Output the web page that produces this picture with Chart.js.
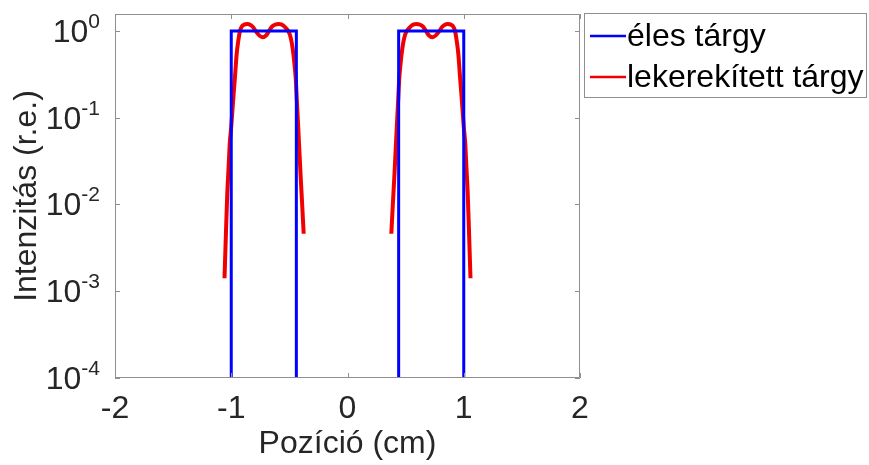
<!DOCTYPE html>
<html>
<head>
<meta charset="utf-8">
<script src="https://cdn.jsdelivr.net/npm/chart.js@4/dist/chart.umd.min.js"></script>
<style>
  html, body { margin: 0; padding: 0; background: #fff; }
  canvas { display: block; }
</style>
</head>
<body>
<canvas id="chart" width="869" height="465"></canvas>
<script>
// Tengelyek
const xTicks = [-2, -1, 0, 1, 2];
const yTicks = [1e-4, 1e-3, 1e-2, 1e-1, 1];
const yTickExponents = ["-4", "-3", "-2", "-1", "0"];

// Éles tárgy: négyszög-profil (null = szakadás, 1e-5 = a tengely alatt, "nulla")
const sharpX = [-1, -1, -0.44, -0.44, null, 0.44, 0.44, 1, 1];
const sharpY = [1e-5, 1, 1, 1e-5, null, 1e-5, 1, 1, 1e-5];

// Lekerekített tárgy: bal és jobb oldali nyaláb
const roundX = [
  -1.058, -1.045, -1.034, -1.022, -1.013, -1.0, -0.985, -0.968, -0.953, -0.94,
  -0.925, -0.91, -0.896, -0.878, -0.858, -0.838, -0.815, -0.79, -0.76, -0.73,
  -0.70, -0.675, -0.65, -0.625, -0.59, -0.57, -0.55, -0.53, -0.51, -0.495,
  -0.48, -0.466, -0.455, -0.445, -0.436, -0.428, -0.417, -0.403, -0.39, -0.377,
  null,
  0.377, 0.39, 0.403, 0.417, 0.428, 0.436, 0.445, 0.455, 0.466, 0.48,
  0.495, 0.51, 0.53, 0.55, 0.57, 0.59, 0.625, 0.65, 0.675, 0.70,
  0.73, 0.76, 0.79, 0.815, 0.838, 0.858, 0.878, 0.896, 0.91, 0.925,
  0.94, 0.953, 0.968, 0.985, 1.0, 1.013, 1.022, 1.034, 1.045, 1.058
];
const roundY = [
  0.00141, 0.0050, 0.0135, 0.0282, 0.050, 0.079, 0.151, 0.295, 0.55, 0.76,
  1.0, 1.12, 1.17, 1.197, 1.205, 1.18, 1.12, 1.0, 0.89, 0.845,
  0.89, 1.0, 1.12, 1.18, 1.205, 1.19, 1.15, 1.08, 1.0, 0.90,
  0.74, 0.55, 0.40, 0.28, 0.16, 0.10, 0.050, 0.021, 0.010, 0.0046,
  null,
  0.0046, 0.010, 0.021, 0.050, 0.10, 0.16, 0.28, 0.40, 0.55, 0.74,
  0.90, 1.0, 1.08, 1.15, 1.19, 1.205, 1.18, 1.12, 1.0, 0.89,
  0.845, 0.89, 1.0, 1.12, 1.18, 1.205, 1.197, 1.17, 1.12, 1.0,
  0.76, 0.55, 0.295, 0.151, 0.079, 0.050, 0.0282, 0.0135, 0.0050, 0.00141
];

const FONT = "'Liberation Sans', Arial, sans-serif";
const TEXT = "#262626";
const AXIS = "#8f8f8f";

function toPoints(xs, ys) {
  return xs.map((x, i) => ({ x: x === null ? NaN : x, y: ys[i] }));
}

// MATLAB-szerű doboz, befelé álló osztásokkal, hatványos y-feliratok, jelmagyarázat
const matlabAxes = {
  id: "matlabAxes",
  afterDatasetsDraw(chart) {
    const { ctx, chartArea: a, scales } = chart;
    const xs = scales.x, ys = scales.y;
    ctx.save();
    ctx.strokeStyle = AXIS;
    ctx.lineWidth = 1;
    ctx.beginPath();
    ctx.rect(a.left + 0.5, a.top + 0.5, a.right - a.left - 1, a.bottom - a.top - 1);
    xTicks.forEach((v) => {
      const px = Math.round(xs.getPixelForValue(v)) + 0.5;
      ctx.moveTo(px, a.bottom); ctx.lineTo(px, a.bottom - 5);
      ctx.moveTo(px, a.top); ctx.lineTo(px, a.top + 5);
    });
    yTicks.forEach((v) => {
      const py = Math.round(ys.getPixelForValue(v)) + 0.5;
      ctx.moveTo(a.left, py); ctx.lineTo(a.left + 5, py);
      ctx.moveTo(a.right, py); ctx.lineTo(a.right - 5, py);
    });
    ctx.stroke();

    // y feliratok: 10 a kitevővel
    ctx.fillStyle = TEXT;
    ctx.textBaseline = "alphabetic";
    yTicks.forEach((v, i) => {
      const py = ys.getPixelForValue(v);
      ctx.font = "21px " + FONT;
      ctx.textAlign = "right";
      const exp = yTickExponents[i];
      const expW = ctx.measureText(exp).width;
      ctx.fillText(exp, a.left - 15, py - 3);
      ctx.font = "32px " + FONT;
      ctx.fillText("10", a.left - 15 - expW, py + 11);
    });

    // jelmagyarázat
    const lx = 584, ly = 13, lw = 282, lh = 84;
    ctx.strokeStyle = AXIS;
    ctx.strokeRect(lx + 0.5, ly + 0.5, lw, lh);
    const rows = [23, 64];
    chart.data.datasets.forEach((ds, i) => {
      const y = ly + rows[i];
      ctx.strokeStyle = ds.borderColor;
      ctx.lineWidth = 2.5;
      ctx.beginPath();
      ctx.moveTo(lx + 6, y);
      ctx.lineTo(lx + 42, y);
      ctx.stroke();
      ctx.fillStyle = "#000";
      ctx.font = "32px " + FONT;
      ctx.textAlign = "left";
      ctx.textBaseline = "middle";
      ctx.fillText(ds.label, lx + 43, y + 1);
    });
    ctx.restore();
  }
};

new Chart(document.getElementById("chart"), {
  type: "line",
  data: {
    datasets: [
      {
        label: "éles tárgy",
        data: toPoints(sharpX, sharpY),
        borderColor: "#0000ff",
        borderWidth: 3,
        pointRadius: 0,
        tension: 0,
        spanGaps: false
      },
      {
        label: "lekerekített tárgy",
        data: toPoints(roundX, roundY),
        borderColor: "#f00000",
        borderWidth: 4,
        pointRadius: 0,
        cubicInterpolationMode: "monotone",
        spanGaps: false
      }
    ]
  },
  options: {
    responsive: false,
    animation: false,
    layout: { padding: { left: 0, right: 289, top: 14, bottom: 0 } },
    plugins: { legend: { display: false }, tooltip: { enabled: false } },
    scales: {
      x: {
        type: "linear",
        min: -2,
        max: 2,
        afterBuildTicks: (s) => { s.ticks = xTicks.map((v) => ({ value: v })); },
        ticks: { font: { family: FONT, size: 32 }, color: TEXT, padding: 12 },
        grid: { display: false, drawTicks: false },
        border: { display: false },
        title: {
          display: true,
          text: "Pozíció (cm)",
          font: { family: FONT, size: 32 },
          color: TEXT,
          padding: { top: 0, bottom: 2 }
        },
        afterFit: (s) => { s.height = 87; }
      },
      y: {
        type: "logarithmic",
        min: 1e-4,
        max: 1.57,
        bounds: "data",
        afterBuildTicks: (s) => { s.ticks = yTicks.map((v) => ({ value: v })); },
        ticks: { display: false },
        grid: { display: false, drawTicks: false },
        border: { display: false },
        title: {
          display: true,
          text: "Intenzitás (r.e.)",
          font: { family: FONT, size: 32 },
          color: TEXT,
          padding: { top: 8, bottom: 0 }
        },
        afterFit: (s) => { s.width = 115; }
      }
    }
  },
  plugins: [matlabAxes]
});
</script>
</body>
</html>
